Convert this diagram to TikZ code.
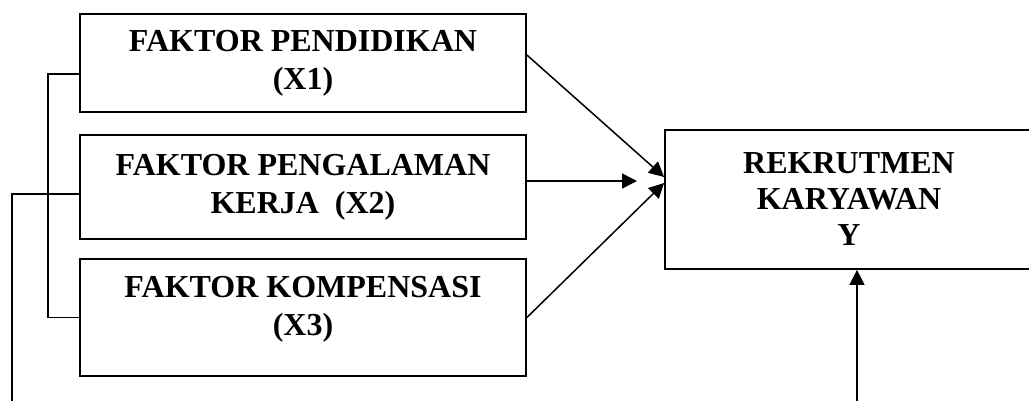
\documentclass[tikz,border=0pt]{standalone}
\usepackage{fontspec}
\setmainfont{Liberation Serif}
\usetikzlibrary{arrows.meta}

\tikzset{
    kotak/.style = {draw, line width=0.9pt, minimum width=223pt, align=center, font=\fontsize{16}{19}\selectfont\bfseries},
    panah/.style = {line width=0.75pt, -{Triangle[length=7.5pt, width=7.5pt]}}
}

\begin{document}
\begin{tikzpicture}[x = 0.5pt, y = -0.5pt, line width=0.75pt]
            \useasboundingbox (0,0) rectangle (1029,401);
            \clip (0,0) rectangle (1029,401);
            \node[kotak, minimum height=49pt](x1) at (303,63) {FAKTOR PENDIDIKAN\\(X1)};
            \node[kotak, minimum height=52pt](x2) at (303,187) {FAKTOR PENGALAMAN\\KERJA~~(X2)};
            \node[kotak, minimum height=58.5pt](x3) at (303,317.5) {};
            \node[align=center, font=\fontsize{16}{19}\selectfont\bfseries](x3t) at (303,309) {FAKTOR KOMPENSASI\\(X3)};
            \node[kotak, minimum width=300pt, minimum height=69.5pt, font=\fontsize{16}{18}\selectfont\bfseries](ry) at (965,199.5) {};
            \node[align=center, font=\fontsize{16}{18}\selectfont\bfseries](ryt) at (849,199.5) {REKRUTMEN\\KARYAWAN\\Y};
            \coordinate (tengah) at (637,181);
            \coordinate (bawahkiri) at (12,401);
            \coordinate (bawahkanan) at (857,401);
            \draw[panah] ([yshift=4pt]x1.east) -- ([yshift=11.25pt]ry.west);
            \draw[panah] ([yshift=3pt]x2.east) -- (tengah);
            \draw[panah] (x3.east) -- ([yshift=8.25pt]ry.west);
            \draw ([yshift=-5.5pt]x1.west) -- ++(-31,0) |- (x3.west);
            \draw ([yshift=-3.5pt]x2.west) -| (bawahkiri);
            \draw[panah] (bawahkanan) -- (bawahkanan |- ry.south);
\end{tikzpicture}
\end{document}
